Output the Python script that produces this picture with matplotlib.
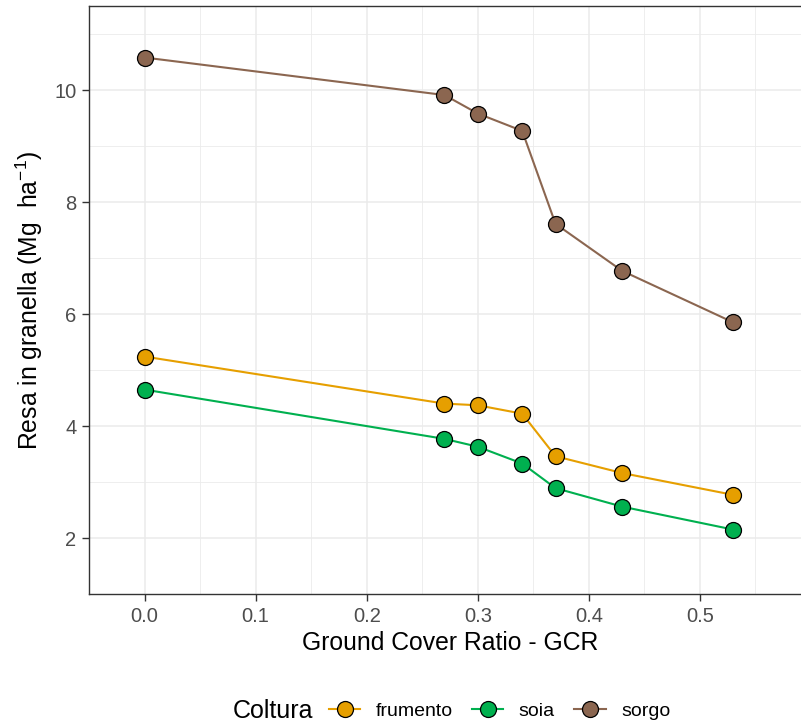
import numpy as np
import matplotlib
matplotlib.use("Agg")
import matplotlib.pyplot as plt
from matplotlib.lines import Line2D

plt.rcParams['font.family'] = ['Liberation Sans', 'DejaVu Sans']
plt.rcParams['mathtext.fontset'] = 'custom'
plt.rcParams['mathtext.rm'] = 'Liberation Sans'
plt.rcParams['mathtext.it'] = 'Liberation Sans'

# data
gcr = [0.0, 0.27, 0.30, 0.34, 0.37, 0.43, 0.53]
frumento = [5.24, 4.40, 4.37, 4.22, 3.46, 3.16, 2.77]
soia = [4.65, 3.77, 3.63, 3.33, 2.89, 2.56, 2.15]
sorgo = [10.58, 9.91, 9.58, 9.27, 7.61, 6.77, 5.85]

crops = ['frumento', 'soia', 'sorgo']
colori = ['#E69F00', '#00B04F', '#8B6650']
serie = [frumento, soia, sorgo]

fig = plt.figure(figsize=(8.01, 7.27), dpi=100)
W, H = 801, 727
# axes right edge sits past the figure edge (cropped like the reference)
ax = fig.add_axes([89 / W, 1 - 594 / H, (811 - 89) / W, (594 - 6) / H])

for nome, col, y in zip(crops, colori, serie):
    ax.plot(gcr, y, color=col, lw=1.5, marker='o', ms=11.5,
            mfc=col, mec='black', mew=0.9, label=nome, zorder=3)

ax.set_xlim(-0.05, 0.6)
ax.set_ylim(1, 11.5)
ax.set_xticks([0.0, 0.1, 0.2, 0.3, 0.4, 0.5])
ax.set_xticklabels(['0.0', '0.1', '0.2', '0.3', '0.4', '0.5'])
ax.set_yticks([2, 4, 6, 8, 10])
ax.set_xticks(np.arange(-0.05, 0.6, 0.1), minor=True)
ax.set_yticks([1, 3, 5, 7, 9, 11], minor=True)

ax.grid(which='major', color='#EBEBEB', lw=1.1, zorder=0)
ax.grid(which='minor', color='#EBEBEB', lw=0.6, zorder=0)
ax.set_axisbelow(True)
for s in ax.spines.values():
    s.set_color('#333333')
    s.set_linewidth(1.0)

ax.tick_params(which='major', length=5, width=1.0, color='#333333',
               labelcolor='#4D4D4D', labelsize=14.5, pad=4)
ax.tick_params(which='minor', length=0)

ax.set_xlabel('Ground Cover Ratio - GCR', fontsize=17.8, labelpad=4)
ax.set_ylabel('Resa in granella (Mg  ha$^{-1}$)', fontsize=17.8, labelpad=7)

handles = [Line2D([0], [0], color=c, lw=1.5, marker='o', ms=11.5, mfc=c,
                  mec='black', mew=0.9) for c in colori]
fig.text(233 / W, 1 - 711 / H, 'Coltura', fontsize=18, va='center', ha='left')
fig.legend(handles, crops, loc='center left', bbox_to_anchor=(329 / W, 1 - 711 / H),
           ncol=3, frameon=False, fontsize=14, handlelength=1.6,
           handletextpad=0.8, columnspacing=1.0, borderaxespad=0, borderpad=0)

fig.savefig('out.png', dpi=100)
